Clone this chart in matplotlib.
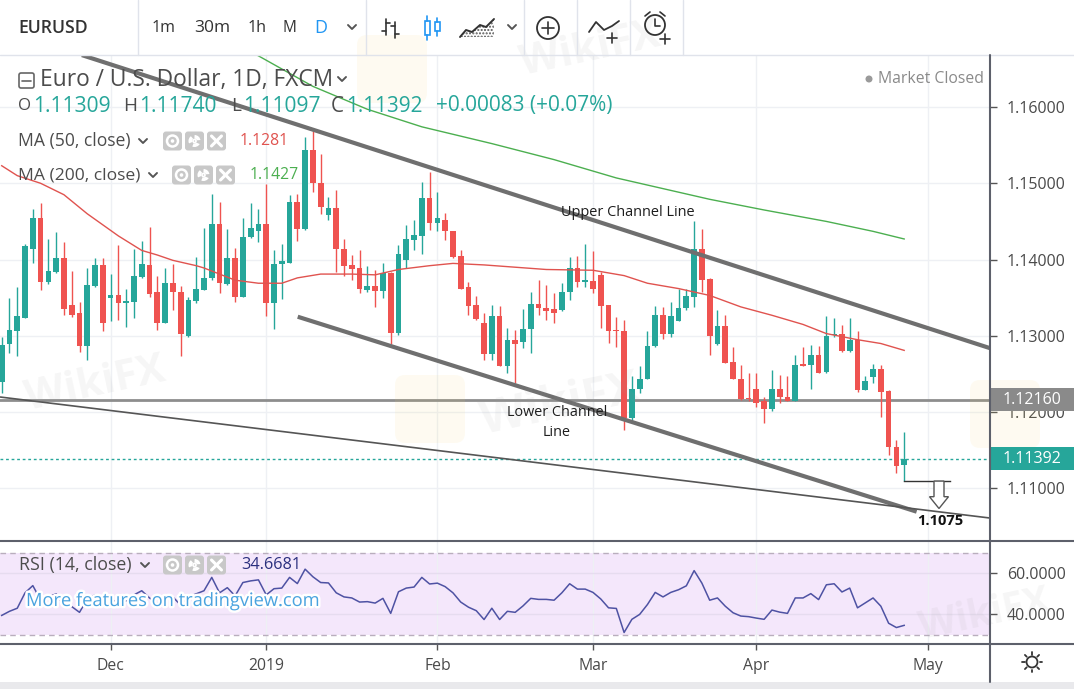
import numpy as np
import pandas as pd
import matplotlib
matplotlib.use('Agg')
import matplotlib.pyplot as plt
from matplotlib.patches import FancyBboxPatch, Polygon, Circle, Rectangle
import matplotlib.patheffects as pe
from matplotlib.ticker import FormatStrFormatter

# ---------------- data ----------------
first_day = '2018-11-13'
holidays = ['2018-12-25', '2019-01-01']

opens = [1.1240, 1.1289, 1.1307, 1.1324, 1.1414, 1.1454, 1.1370, 1.1384, 1.1402, 1.1340,
         1.1330, 1.1287, 1.1366, 1.1393, 1.1350, 1.1353, 1.1343, 1.1345, 1.1377, 1.1393,
         1.1357, 1.1317, 1.1369, 1.1358, 1.1300, 1.1346, 1.1360, 1.1376, 1.1447, 1.1368,
         1.1402, 1.1351, 1.1429, 1.1437, 1.1447, 1.1343, 1.1394, 1.1395, 1.1475, 1.1440,
         1.1544, 1.1500, 1.1458, 1.1468, 1.1414, 1.1393, 1.1389, 1.1360, 1.1365, 1.1359,
         1.1383, 1.1304, 1.1400, 1.1426, 1.1431, 1.1481, 1.1448, 1.1452, 1.1437, 1.1405,
         1.1364, 1.1340, 1.1317, 1.1276, 1.1326, 1.1260, 1.1295, 1.1292, 1.1309, 1.1342,
         1.1337, 1.1335, 1.1334, 1.1357, 1.1389, 1.1370, 1.1372, 1.1380, 1.1340, 1.1308,
         1.1307, 1.1192, 1.1231, 1.1244, 1.1287, 1.1327, 1.1303, 1.1320, 1.1336, 1.1351,
         1.1414, 1.1374, 1.1289, 1.1313, 1.1266, 1.1244, 1.1219, 1.1230, 1.1214, 1.1204,
         1.1231, 1.1220, 1.1215, 1.1263, 1.1262, 1.1275, 1.1253, 1.1301, 1.1303, 1.1280,
         1.1295, 1.1229, 1.1246, 1.1257, 1.1228, 1.1154, 1.11309]
highs = [1.1298, 1.1349, 1.1364, 1.1421, 1.1466, 1.1474, 1.1427, 1.1436, 1.1423, 1.1385,
         1.1345, 1.1389, 1.1402, 1.1402, 1.1381, 1.1419, 1.1362, 1.1414, 1.1424, 1.1443,
         1.1378, 1.1389, 1.1394, 1.1365, 1.1351, 1.1403, 1.1441, 1.1486, 1.1475, 1.1440,
         1.1415, 1.1455, 1.1474, 1.1466, 1.1499, 1.1413, 1.1420, 1.1485, 1.1486, 1.1560,
         1.1569, 1.1539, 1.1482, 1.1491, 1.1427, 1.1406, 1.1412, 1.1391, 1.1386, 1.1396,
         1.1384, 1.1419, 1.1445, 1.1452, 1.1502, 1.1515, 1.1489, 1.1461, 1.1438, 1.1412,
         1.1371, 1.1352, 1.1330, 1.1341, 1.1339, 1.1310, 1.1308, 1.1335, 1.1358, 1.1373,
         1.1367, 1.1356, 1.1369, 1.1403, 1.1405, 1.1421, 1.1411, 1.1384, 1.1341, 1.1325,
         1.1321, 1.1247, 1.1260, 1.1306, 1.1339, 1.1338, 1.1345, 1.1361, 1.1361, 1.1450,
         1.1440, 1.1376, 1.1334, 1.1327, 1.1286, 1.1262, 1.1251, 1.1251, 1.1220, 1.1255,
         1.1249, 1.1248, 1.1275, 1.1286, 1.1288, 1.1287, 1.1326, 1.1323, 1.1314, 1.1324,
         1.1306, 1.1247, 1.1263, 1.1262, 1.1229, 1.1164, 1.11740]
lows = [1.1225, 1.1277, 1.1273, 1.1323, 1.1395, 1.1360, 1.1368, 1.1382, 1.1327, 1.1325,
        1.1279, 1.1268, 1.1364, 1.1307, 1.1320, 1.1321, 1.1312, 1.1323, 1.1376, 1.1351,
        1.1308, 1.1317, 1.1334, 1.1273, 1.1299, 1.1343, 1.1360, 1.1373, 1.1356, 1.1367,
        1.1345, 1.1351, 1.1428, 1.1423, 1.1326, 1.1309, 1.1348, 1.1395, 1.1424, 1.1439,
        1.1488, 1.1460, 1.1452, 1.1384, 1.1379, 1.1373, 1.1356, 1.1358, 1.1338, 1.1349,
        1.1290, 1.1301, 1.1389, 1.1413, 1.1407, 1.1439, 1.1437, 1.1426, 1.1402, 1.1362,
        1.1327, 1.1321, 1.1269, 1.1269, 1.1260, 1.1251, 1.1238, 1.1284, 1.1278, 1.1327,
        1.1321, 1.1317, 1.1332, 1.1347, 1.1364, 1.1364, 1.1356, 1.1310, 1.1291, 1.1286,
        1.1177, 1.1188, 1.1225, 1.1244, 1.1286, 1.1296, 1.1299, 1.1319, 1.1334, 1.1338,
        1.1357, 1.1275, 1.1288, 1.1265, 1.1243, 1.1216, 1.1214, 1.1207, 1.1186, 1.1202,
        1.1212, 1.1214, 1.1214, 1.1260, 1.1231, 1.1251, 1.1252, 1.1299, 1.1279, 1.1279,
        1.1227, 1.1229, 1.1238, 1.1194, 1.1144, 1.1120, 1.11097]
closes = [1.1288, 1.1308, 1.1326, 1.1418, 1.1454, 1.1370, 1.1385, 1.1402, 1.1335, 1.1327,
          1.1287, 1.1367, 1.1393, 1.1317, 1.1353, 1.1343, 1.1346, 1.1378, 1.1394, 1.1355,
          1.1317, 1.1369, 1.1357, 1.1303, 1.1347, 1.1362, 1.1376, 1.1447, 1.1369, 1.1402,
          1.1351, 1.1430, 1.1441, 1.1447, 1.1343, 1.1394, 1.1398, 1.1475, 1.1440, 1.1544,
          1.1500, 1.1469, 1.1468, 1.1414, 1.1392, 1.1387, 1.1362, 1.1365, 1.1359, 1.1383,
          1.1304, 1.1407, 1.1427, 1.1432, 1.1481, 1.1448, 1.1455, 1.1437, 1.1404, 1.1362,
          1.1339, 1.1322, 1.1276, 1.1326, 1.1260, 1.1295, 1.1290, 1.1309, 1.1342, 1.1336,
          1.1333, 1.1330, 1.1358, 1.1389, 1.1371, 1.1373, 1.1362, 1.1339, 1.1307, 1.1306,
          1.1192, 1.1231, 1.1244, 1.1287, 1.1327, 1.1303, 1.1326, 1.1336, 1.1352, 1.1414,
          1.1373, 1.1300, 1.1313, 1.1265, 1.1243, 1.1217, 1.1217, 1.1212, 1.1204, 1.1231,
          1.1220, 1.1215, 1.1262, 1.1261, 1.1275, 1.1252, 1.1300, 1.1303, 1.1280, 1.1295,
          1.1229, 1.1241, 1.1256, 1.1227, 1.1154, 1.1130, 1.11392]
rsi = [39.5, 41.5, 43.0, 50.5, 54.0, 47.0, 48.5, 50.0, 44.5, 43.8,
       41.0, 47.5, 49.5, 44.0, 47.0, 46.3, 46.5, 49.5, 51.5, 48.0,
       45.0, 49.5, 48.5, 44.5, 48.5, 50.0, 51.5, 58.0, 50.5, 53.0,
       49.0, 55.5, 56.3, 56.8, 49.5, 52.5, 52.8, 58.0, 55.0, 62.0,
       58.3, 55.5, 55.3, 50.5, 48.5, 48.0, 46.0, 46.2, 45.5, 47.8,
       40.5, 51.0, 52.8, 53.3, 58.0, 54.8, 55.2, 53.5, 50.5, 46.0,
       43.5, 41.8, 37.5, 43.0, 37.5, 41.5, 41.0, 44.1, 47.8, 47.3,
       47.3, 46.9, 50.5, 54.9, 52.3, 52.3, 50.7, 47.5, 43.2, 42.9,
       31.2, 37.6, 40.0, 44.8, 50.7, 48.5, 50.7, 52.0, 53.9, 61.3,
       55.2, 46.9, 48.0, 44.0, 40.8, 39.2, 38.9, 38.2, 37.6, 42.1,
       41.1, 40.5, 48.0, 48.0, 50.1, 47.2, 54.4, 54.9, 50.9, 52.8,
       43.2, 45.6, 48.0, 44.0, 35.7, 33.6, 34.67]
ma50_bar = [0, 2, 5, 8, 11, 15, 18, 20, 22, 25, 26, 30, 33, 36, 38, 41, 45, 48,
            51, 55, 58, 62, 70, 76, 80, 83, 87, 91, 95, 99, 103, 106, 110, 113, 116]
ma50 = [1.1523, 1.1510, 1.1500, 1.1485, 1.1460, 1.1431, 1.1412, 1.1406, 1.1399,
        1.1392, 1.1389, 1.1373, 1.1369, 1.1369, 1.1376, 1.1381, 1.1381, 1.1380,
        1.1387, 1.1392, 1.1395, 1.1393, 1.1387, 1.1386, 1.1379, 1.1369, 1.1362,
        1.1353, 1.1338, 1.1327, 1.1315, 1.1303, 1.1295, 1.1290, 1.1281]
ma200_bar = [29, 33, 40, 47, 54, 63, 71, 79, 91, 98, 106, 112, 116]
ma200 = [1.1688, 1.1667, 1.1627, 1.1597, 1.1574, 1.1552, 1.1531, 1.1507,
         1.1479, 1.1465, 1.1450, 1.1437, 1.1427]
price_ticks = [1.11, 1.12, 1.13, 1.14, 1.15, 1.16]
rsi_ticks = [40, 60]
month_labels = ['Dec', '2019', 'Feb', 'Mar', 'Apr', 'May']
month_starts = ['2018-12-01', '2019-01-01', '2019-02-01', '2019-03-01', '2019-04-01', '2019-05-01']
ohlc_last = ['1.11309', '1.11740', '1.11097', '1.11392']
change_text = '+0.00083 (+0.07%)'
last_price = 1.11392
level_price = 1.12160
target_price = 1.1075
ma50_last, ma200_last, rsi_last = '1.1281', '1.1427', '34.6681'
upper_channel = [(10.3, 1.1668), (127.0, 1.1284)]
lower_channel = [(38.05, 1.13251), (117.6, 1.10696)]
long_line = [(-0.22, 1.12199), (127.0, 1.10613)]

# ---------------- layout ----------------
W, H = 1074, 689
PANE_R, MAIN_TOP, MAIN_BOT, RSI_BOT = 990, 55, 541, 644
BAR0, BARW = 1.7, 7.78
PRICE_TOP, PRICE_BOT = 1.166812, 1.103117
RSI_TOP, RSI_LOW = 75.7, 25.6
FONT = ['Open Sans', 'DejaVu Sans']
TEAL, RED = '#26a69a', '#ef5350'
DARK = '#4a4a4a'

days = pd.bdate_range(first_day, '2019-05-10')
days = days[~days.isin(pd.to_datetime(holidays))]
n = len(opens)
x = np.arange(n)
month_pos = [int(np.searchsorted(days, pd.Timestamp(m))) for m in month_starts]

fig = plt.figure(figsize=(W / 100, H / 100), dpi=100)
fig.patch.set_facecolor('white')
renderer = fig.canvas.get_renderer()


def fr(x0, y0, x1, y1):
    return [x0 / W, 1 - y1 / H, (x1 - x0) / W, (y1 - y0) / H]


ax = fig.add_axes(fr(0, MAIN_TOP, PANE_R, MAIN_BOT))
axr = fig.add_axes(fr(0, MAIN_BOT, PANE_R, RSI_BOT))
xlim = ((0 - BAR0) / BARW, (PANE_R - BAR0) / BARW)
for a in (ax, axr):
    a.set_xlim(*xlim)
    for s in a.spines.values():
        s.set_visible(False)
    a.set_xticks(month_pos)
    a.grid(True, axis='x', color='#eef0f4', lw=1)
ax.set_ylim(PRICE_BOT, PRICE_TOP)
axr.set_ylim(RSI_LOW, RSI_TOP)


def fit_size(s, target_w, family=FONT, weight='normal', base=12.0):
    t = fig.text(0, 0, s, fontsize=base, family=family, weight=weight)
    w = t.get_window_extent(renderer).width
    t.remove()
    return base * target_w / w


tick_size = fit_size('1.13000', 59)
date_size = fit_size('2019', 36)

# price grid & right axis
ax.set_yticks(price_ticks)
ax.yaxis.tick_right()
ax.yaxis.set_major_formatter(FormatStrFormatter('%.5f'))
ax.grid(True, axis='y', color='#eef0f4', lw=1)
ax.tick_params(axis='y', length=5, width=1, color='#555', pad=7,
               labelsize=tick_size, labelcolor=DARK)
for lab in ax.get_yticklabels():
    lab.set_family(FONT)
ax.tick_params(axis='x', length=0, labelbottom=False)
ax.set_axisbelow(True)

# candles
up = np.array(closes) >= np.array(opens)
cols = np.where(up, TEAL, RED)
ax.vlines(x, lows, highs, colors=cols, lw=1, zorder=3)
body_lo = np.minimum(opens, closes)
body_h = np.maximum(np.abs(np.array(closes) - np.array(opens)), 0.00014)
ax.bar(x, body_h, bottom=body_lo, width=0.74, color=cols, lw=0, zorder=4)

# moving averages
ax.plot(ma50_bar, ma50, color='#e0534f', lw=1, zorder=5)
ax.plot(ma200_bar, ma200, color='#4caf50', lw=1, zorder=5)

# drawings
ax.axhline(level_price, color='#8d8d8d', lw=2, zorder=2)
ax.axhline(last_price, color=TEAL, lw=1, ls=(0, (2, 2)), zorder=2)
for seg, lw, c in [(upper_channel, 3, '#6f6f6f'), (lower_channel, 3, '#6f6f6f'),
                   (long_line, 1.2, '#555555')]:
    ax.plot([seg[0][0], seg[1][0]], [seg[0][1], seg[1][1]], color=c, lw=lw,
            solid_capstyle='butt', zorder=6)
ax.plot([n - 1, 121.9], [lows[-1], lows[-1]], color='#333', lw=1, zorder=6)

# RSI pane
axr.axhspan(30, 70, color='#f4e7fb', lw=0, zorder=0)
axr.axhline(70, color='#b9aebd', lw=1, ls=(0, (4, 3)), zorder=1)
axr.axhline(30, color='#b9aebd', lw=1, ls=(0, (4, 3)), zorder=1)
axr.set_yticks(rsi_ticks)
axr.grid(True, axis='y', color='#e6dcef', lw=1)
axr.yaxis.tick_right()
axr.yaxis.set_major_formatter(FormatStrFormatter('%.4f'))
axr.tick_params(axis='y', length=5, width=1, color='#555', pad=7,
                labelsize=tick_size, labelcolor=DARK)
axr.plot(x, rsi, color='#4e52a3', lw=1.1, zorder=3)
axr.set_xticklabels(month_labels)
axr.tick_params(axis='x', length=4, width=1, color='#555', pad=6,
                labelsize=date_size, labelcolor=DARK)
for lab in axr.get_xticklabels() + axr.get_yticklabels():
    lab.set_family(FONT)
axr.set_axisbelow(True)

# ---------------- overlay in pixel coordinates ----------------
ov = fig.add_axes([0, 0, 1, 1], zorder=10)
ov.set_xlim(0, W)
ov.set_ylim(H, 0)
ov.axis('off')
ov.patch.set_alpha(0)


def py(p):
    return MAIN_TOP + (PRICE_TOP - p) / (PRICE_TOP - PRICE_BOT) * (MAIN_BOT - MAIN_TOP)


def T(x0, x1, y, s, color, weight='normal', ha='left', size=None, family=FONT, **kw):
    if size is None:
        size = fit_size(s, x1 - x0, family, weight)
    xx = x0 if ha == 'left' else (x0 + x1) / 2
    return ov.text(xx, y, s, fontsize=size, color=color, family=family,
                   weight=weight, ha=ha, va='center', **kw)


def L(xs, ys, c='#333', lw=1.2, **kw):
    ov.plot(xs, ys, color=c, lw=lw, solid_capstyle='round', **kw)


def chev(cx, cy, c='#555'):
    L([cx - 4, cx, cx + 4], [cy - 2, cy + 2, cy - 2], c, 1.4)


# faint watermarks
for (wx, wy, ws) in [(590, 50, 30), (560, 405, 34), (95, 385, 30), (985, 615, 28)]:
    ov.text(wx, wy, 'WikiFX', fontsize=ws, color='#9a9a9a', alpha=0.09, weight='bold',
            family=FONT, rotation=12, ha='center', va='center', zorder=0)
for (lx, ly) in [(357, 35), (970, 380), (395, 375)]:
    ov.add_patch(FancyBboxPatch((lx, ly), 70, 68, boxstyle='round,pad=0,rounding_size=10',
                                fc='#f6d26a', ec='none', alpha=0.09, zorder=0))

# toolbar
L([0, W], [MAIN_TOP, MAIN_TOP], '#e0e3eb', 1)
for sx in [138, 366, 524, 577, 630, 683]:
    L([sx, sx], [0, MAIN_TOP], '#e0e3eb', 1)
T(18, 88, 28, 'EURUSD', '#333', weight='semibold')
for (a0, a1, s, c) in [(152, 176, '1m', '#333'), (194, 230, '30m', '#333'),
                       (248, 267, '1h', '#333'), (283, 297, 'M', '#333'),
                       (314, 327, 'D', '#2196f3')]:
    T(a0, a1, 28, s, c)
chev(352, 27)
# bars icon
L([386, 386], [19, 35]); L([382, 386], [31, 31]); L([386, 390], [23, 23])
L([395, 395], [22, 38]); L([391, 395], [26, 26]); L([395, 399], [34, 34])
# candle icon
for cxx, w0, w1, b0, b1 in [(427, 16, 40, 21, 35), (437, 18, 36, 22, 31)]:
    L([cxx, cxx], [w0, b0], '#2196f3'); L([cxx, cxx], [b1, w1], '#2196f3')
    ov.add_patch(Rectangle((cxx - 2.5, b0), 5, b1 - b0, fill=False, ec='#2196f3', lw=1.2))
# area icon
ax_pts = [(460, 37), (466, 30), (472, 32), (480, 25), (486, 27), (494, 19)]
ov.add_patch(Polygon(ax_pts + [(494, 37)], closed=True, fc='none', ec='#555',
                     hatch='.....', lw=0))
L([p[0] for p in ax_pts], [p[1] for p in ax_pts], '#333', 1.4)
chev(512, 27)
# plus circle
ov.add_patch(Circle((548, 28), 11, fill=False, ec='#333', lw=1.3))
L([542, 554], [28, 28]); L([548, 548], [22, 34])
# indicator icon
L([589, 596, 604, 612, 619], [32, 22, 30, 26, 21], '#333', 1.3)
L([607, 617], [38, 38]); L([612, 612], [33, 43])
# alarm icon
ov.add_patch(Circle((655, 25), 10, fill=False, ec='#333', lw=1.3))
L([655, 655, 660], [19, 26, 26])
L([645, 650], [16, 12]); L([665, 660], [16, 12])
L([660, 670], [39, 39]); L([665, 665], [34, 44])

# legend
ov.add_patch(FancyBboxPatch((19, 73), 15, 15, boxstyle='round,pad=0,rounding_size=2',
                            fill=False, ec='#666', lw=1.2))
L([22, 31], [80.5, 80.5], '#666', 1.2)
T(40, 333, 80, 'Euro / U.S. Dollar, 1D, FXCM', '#4c4c4c')
chev(342, 79)
parts = [(18, 31, 'O', '#4c4c4c'), (33, 110, ohlc_last[0], TEAL),
         (123, 137, 'H', '#4c4c4c'), (139, 216, ohlc_last[1], TEAL),
         (231, 241, 'L', '#4c4c4c'), (243, 320, ohlc_last[2], TEAL),
         (331, 344, 'C', '#4c4c4c'), (346, 422, ohlc_last[3], TEAL),
         (436, 614, change_text, TEAL)]
for a0, a1, s, c in parts:
    T(a0, a1, 106, s, c)


def buttons(x0, y):
    for k in range(3):
        bx = x0 + k * 22
        ov.add_patch(FancyBboxPatch((bx, y - 9.5), 19, 19, boxstyle='round,pad=0,rounding_size=3',
                                    fc='#c8c8c8', ec='none'))
        cx = bx + 9.5
        if k == 0:
            ov.add_patch(Circle((cx, y), 5.5, fill=False, ec='white', lw=1.8))
            ov.add_patch(Circle((cx, y), 1.8, fc='white', ec='none'))
        elif k == 1:
            ov.add_patch(Circle((cx, y), 4.2, fill=False, ec='white', lw=2.6, ls=(0, (1.6, 0.9))))
            ov.add_patch(Circle((cx, y), 1.5, fc='#c8c8c8', ec='white', lw=1.2))
        else:
            L([cx - 5, cx + 5], [y - 5, y + 5], 'white', 2.2)
            L([cx - 5, cx + 5], [y + 5, y - 5], 'white', 2.2)


T(18, 130, 141, 'MA (50, close)', '#4c4c4c'); chev(143, 141)
buttons(163, 141)
T(240, 289, 141, ma50_last, '#e0534f')
T(18, 140, 175, 'MA (200, close)', '#4c4c4c'); chev(153, 175)
buttons(172, 175)
T(250, 299, 175, ma200_last, '#4caf50')

ov.add_patch(Circle((869, 79), 3.5, fc='#9a9a9a', ec='none'))
T(878, 983, 79, 'Market Closed', '#8a8a8a')

# text annotations
T(561, 695, 213, 'Upper Channel Line', '#1e1e1e')
s_low = fit_size('Lower Channel', 100)
ov.text(557, 413, 'Lower Channel', fontsize=s_low, color='#1e1e1e', family=FONT, ha='center', va='center')
ov.text(557, 433, 'Line', fontsize=s_low, color='#1e1e1e', family=FONT, ha='center', va='center')
T(917, 963, 521, '%.4f' % target_price, '#111', weight='bold')

# hollow down arrow under last low
ylow = py(lows[-1])
ov.add_patch(Polygon([(934, ylow), (944, ylow), (944, 496.7), (948.5, 496.7), (939, 508.5),
                      (929.5, 496.7), (934, 496.7)], closed=True, fc='white', ec='#555', lw=1))

# price labels on the axis
for p, fc in [(level_price, '#8a8a8a'), (last_price, TEAL)]:
    yy = py(p)
    ov.add_patch(Rectangle((991, yy - 11.5), 83, 23, fc=fc, ec='none'))
    ov.text(1003, yy, '%.5f' % p, fontsize=tick_size, color='white', family=FONT,
            ha='left', va='center')

# RSI legend
T(19, 131, 565, 'RSI (14, close)', '#4c4c4c'); chev(145, 565)
buttons(163, 565)
T(241, 301, 565, rsi_last, '#2b2f7e')
T(26, 318, 601, 'More features on tradingview.com', '#4aa3df',
  path_effects=[pe.withStroke(linewidth=3.5, foreground='white')])

# frame lines
L([0, W], [MAIN_BOT, MAIN_BOT], '#5d606b', 1.5)
L([0, W], [RSI_BOT, RSI_BOT], '#5d606b', 1.5)
L([PANE_R, PANE_R], [MAIN_TOP, 682], '#5d606b', 1.5)
ov.add_patch(Rectangle((0, 682), W, 7, fc='#e9e9ec', ec='none'))
# settings icon
ov.add_patch(Circle((1032, 662), 5.5, fill=False, ec='#333', lw=1.3))
for ang in np.arange(0, 360, 45):
    r = np.deg2rad(ang)
    L([1032 + 7.5 * np.cos(r), 1032 + 10 * np.cos(r)],
      [662 + 7.5 * np.sin(r), 662 + 10 * np.sin(r)], '#333', 1.3)

fig.savefig('out.png', dpi=100)
